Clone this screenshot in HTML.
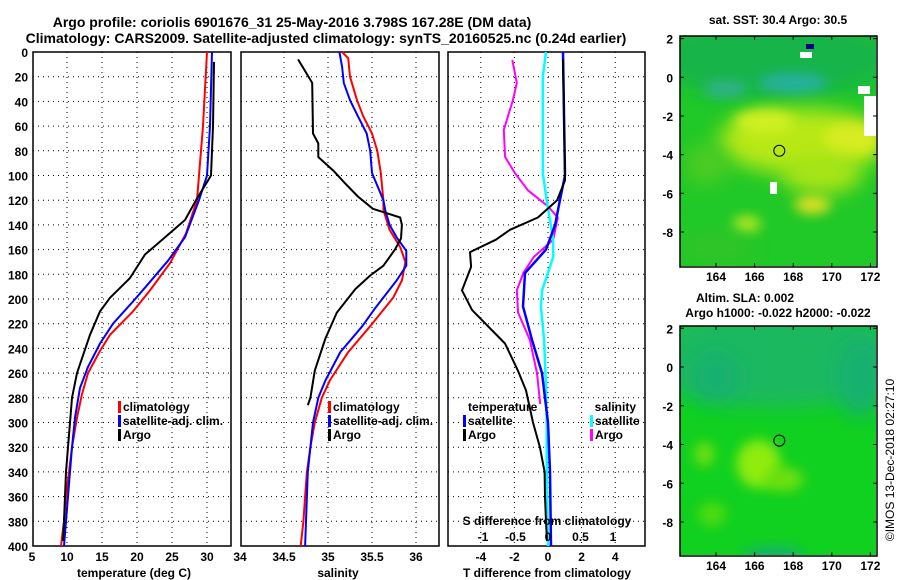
<!DOCTYPE html>
<html><head><meta charset="utf-8">
<style>
html,body{margin:0;padding:0;background:#fff;}
svg{display:block;font-family:"Liberation Sans",Arial,sans-serif;font-weight:bold;}
</style></head>
<body>
<svg id="fig" width="900" height="580" viewBox="0 0 900 580" xmlns="http://www.w3.org/2000/svg">
<defs>
<filter id="blur6" x="-50%" y="-50%" width="200%" height="200%"><feGaussianBlur stdDeviation="6"/></filter>
<filter id="blur10" x="-50%" y="-50%" width="200%" height="200%"><feGaussianBlur stdDeviation="10"/></filter>
<clipPath id="clipTop"><rect x="680" y="36" width="196" height="230"/></clipPath>
<clipPath id="clipBot"><rect x="680" y="326" width="196" height="229"/></clipPath>
</defs>
<text x="292" y="27" font-size="14" text-anchor="middle">Argo profile: coriolis 6901676_31 25-May-2016 3.798S 167.28E (DM data)</text>
<text x="326" y="43" font-size="14" text-anchor="middle">Climatology: CARS2009. Satellite-adjusted climatology: synTS_20160525.nc (0.24d earlier)</text>
<g id="plots"></g>
<g id="maps"></g>
</svg>
<script>
// ---------- data ----------
const tempClimDepth=[0,60,100,120,147,171,193,210,229,242,260,277,296,320,340,360,380,400];
const tempClimVal=[30.0,29.43,28.86,28.57,27.0,24.71,21.86,19.43,16.14,14.71,13.0,12.14,11.43,10.71,10.29,9.86,9.57,9.14];
const tempSatDepth=[0,60,100,120,150,169,188,202,220,236,255,272,296,320,340,360,380,400];
const tempSatVal=[30.71,30.43,30.0,28.86,26.86,24.43,21.57,19.43,16.57,14.71,13.0,11.86,11.14,10.71,10.43,10.14,9.86,9.57];
const tempArgoDepth=[8,60,100,120,136,155,164,183,199,210,229,248,260,280,300,320,340,360,380,396];
const tempArgoVal=[31.0,30.86,30.57,28.43,26.86,23.0,21.14,19.0,16.14,14.71,13.29,12.14,11.43,10.71,10.43,10.14,9.86,9.71,9.57,9.43];

const salClimDepth=[0,5,20,39,52,66,80,98,120,128,144,158,170,185,199,222,243,266,280,300,320,340,360,380,400];
const salClimVal=[35.16,35.23,35.25,35.33,35.40,35.50,35.56,35.60,35.63,35.63,35.70,35.82,35.88,35.84,35.74,35.48,35.23,35.02,34.93,34.85,34.80,34.76,34.74,34.72,34.69];
const salSatDepth=[0,12,25,39,52,66,80,98,120,128,140,150,161,173,185,208,222,243,266,280,300,320,340,360,380,400];
const salSatVal=[35.13,35.16,35.18,35.25,35.34,35.44,35.48,35.50,35.63,35.65,35.70,35.78,35.89,35.89,35.78,35.53,35.39,35.14,34.97,34.89,34.83,34.80,34.77,34.76,34.75,34.74];
const salArgoDepth=[6,25,66,74,85,96,106,117,127,134,140,151,160,173,181,192,211,232,258,280,286];
const salArgoVal=[34.66,34.82,34.83,34.89,34.89,35.06,35.19,35.34,35.51,35.82,35.84,35.83,35.76,35.63,35.48,35.31,35.10,34.97,34.85,34.80,34.77];

const tdiffSatDepth=[0,100,120,140,160,179,206,233,260,280,300,340,400];
const tdiffSatVal=[0.89,1.01,0.71,0.42,-0.12,-1.37,-1.49,-0.95,-0.36,-0.18,0,0.12,0.18];
const tdiffArgoDepth=[6,100,104,120,134,144,152,162,174,193,209,236,258,274,300,320,340,360,380,396];
const tdiffArgoVal=[0.89,1.01,1.01,0.54,-0.60,-2.26,-3.10,-4.64,-4.58,-5.12,-4.52,-2.56,-1.79,-1.31,-0.89,-0.48,-0.2,-0.18,-0.12,-0.06];
const sdiffSatDepth=[0,20,98,120,152,166,193,206,233,271,300,340,400];
const sdiffSatVal=[-0.03,-0.08,-0.08,-0.02,0.08,0.08,-0.09,-0.11,-0.06,-0.03,-0.02,-0.02,0];
const sdiffArgoDepth=[6.5,25,39,63,85,98,112,125,134,152,166,179,193,211,233,260,285];
const sdiffArgoVal=[-0.55,-0.48,-0.54,-0.68,-0.66,-0.51,-0.31,0,0.15,0.08,-0.22,-0.38,-0.48,-0.46,-0.28,-0.17,-0.12];

const depthTicks=[0,20,40,60,80,100,120,140,160,180,200,220,240,260,280,300,320,340,360,380,400];
const tempTicks=[5,10,15,20,25,30];
const salTicks=[34,34.5,35,35.5,36];
const tdiffTicks=[-4,-2,0,2,4];
const sdiffTicks=[-1,-0.5,0,0.5,1];
const lonTicks=[164,166,168,170,172];
const latTicks=[2,0,-2,-4,-6,-8];

// ---------- helpers ----------
const NS='http://www.w3.org/2000/svg';
const plots=document.getElementById('plots');
const maps=document.getElementById('maps');
function mk(tag,attrs,parent){const e=document.createElementNS(NS,tag);for(const k in attrs)e.setAttribute(k,attrs[k]);(parent||plots).appendChild(e);return e;}
const Y0=52,Y1=546;
const yD=d=>Y0+(d/400)*(Y1-Y0);
function linScale(d0,d1,r0,r1){return v=>r0+(v-d0)/(d1-d0)*(r1-r0);}
const xT=linScale(5,30,32,207);
const xS=linScale(34,36,240,416);
const xTd=linScale(0,4,548,615.2);
const xSd=linScale(0,1,548,613);
const panels=[{x0:33,x1:231},{x0:241,x1:439},{x0:448,x1:645}];

function drawFrame(p,idx,vticks,sx){
  vticks.forEach(v=>{const x=sx(v);if(x>p.x0+2&&x<p.x1-2){
    const l=mk('line',{x1:x,x2:x,y1:Y0,y2:Y1,stroke:'#000','stroke-width':1,'stroke-dasharray':'1,4'});
    
    
  }});
  depthTicks.forEach(d=>{const y=yD(d);if(d>0&&d<400){
    const l=mk('line',{x1:p.x0,x2:p.x1,y1:y,y2:y,stroke:'#000','stroke-width':1,'stroke-dasharray':'1,4'});
    
    
  }});
  const r=mk('rect',{x:p.x0,y:Y0,width:p.x1-p.x0,height:Y1-Y0,fill:'none',stroke:'#000','stroke-width':1.5});
  
  
}
function drawLine(depths,vals,sx,color,name,w){
  const pts=depths.map((d,i)=>sx(vals[i]).toFixed(1)+','+yD(d).toFixed(1)).join(' ');
  const l=mk('polyline',{points:pts,fill:'none',stroke:color,'stroke-width':w||2,'stroke-linejoin':'round'});
  
  
}
function txt(x,y,s,size,anchor,name,color){
  const t=mk('text',{x:x,y:y,'font-size':size,'text-anchor':anchor||'middle',fill:color||'#000'});
  t.textContent=s;
  
  
  return t;
}
function legendEntry(x,y,color,label,name){
  const b=mk('rect',{x:x,y:y-10,width:3,height:12,fill:color});
  
  
  txt(x+5,y,label,12,'start',name);
}

// ---------- panel 1: temperature ----------
drawFrame(panels[0],0,tempTicks,xT);
drawLine(tempClimDepth,tempClimVal,xT,'#ff0000','temperature-climatology-line');
drawLine(tempSatDepth,tempSatVal,xT,'#0000ff','temperature-satellite-line');
drawLine(tempArgoDepth,tempArgoVal,xT,'#000000','temperature-argo-line');
depthTicks.forEach(d=>txt(28,yD(d)+5,String(d),12,'end','depth-tick-label'));
tempTicks.forEach(v=>txt(xT(v),561,String(v),12,'middle','temperature-tick-label'));
txt(134,577,'temperature (deg C)',12,'middle','temperature-axis-title');
legendEntry(118,411,'#ff0000','climatology','legend-climatology');
legendEntry(118,425,'#0000ff','satellite-adj. clim.','legend-satellite-adj');
legendEntry(118,439,'#000000','Argo','legend-argo');

// ---------- panel 2: salinity ----------
drawFrame(panels[1],1,salTicks,xS);
drawLine(salClimDepth,salClimVal,xS,'#ff0000','salinity-climatology-line');
drawLine(salSatDepth,salSatVal,xS,'#0000ff','salinity-satellite-line');
drawLine(salArgoDepth,salArgoVal,xS,'#000000','salinity-argo-line');
salTicks.forEach(v=>txt(xS(v),561,String(v),12,'middle','salinity-tick-label'));
txt(338,577,'salinity',12,'middle','salinity-axis-title');
legendEntry(328,411,'#ff0000','climatology','legend-climatology-2');
legendEntry(328,425,'#0000ff','satellite-adj. clim.','legend-satellite-adj-2');
legendEntry(328,439,'#000000','Argo','legend-argo-2');

// ---------- panel 3: differences ----------
drawFrame(panels[2],2,tdiffTicks,xTd);
drawLine(sdiffArgoDepth,sdiffArgoVal,xSd,'#ff00ff','salinity-diff-argo-line');
drawLine(sdiffSatDepth,sdiffSatVal,xSd,'#00ffff','salinity-diff-satellite-line',2.5);
drawLine(tdiffSatDepth,tdiffSatVal,xTd,'#0000ff','temperature-diff-satellite-line',2.5);
drawLine(tdiffArgoDepth,tdiffArgoVal,xTd,'#000000','temperature-diff-argo-line');
tdiffTicks.forEach(v=>txt(xTd(v),561,String(v),12,'middle','tdiff-tick-label'));
sdiffTicks.forEach(v=>txt(xSd(v),541,String(v),12,'middle','sdiff-tick-label'));
txt(547,525,'S difference from climatology',12,'middle','sdiff-axis-title');
txt(547,577,'T difference from climatology',12,'middle','tdiff-axis-title');
txt(468,411,'temperature',12,'start','legend-temperature-heading');
txt(636,411,'salinity',12,'end','legend-salinity-heading');
legendEntry(463,425,'#0000ff','satellite','legend-temp-satellite');
legendEntry(463,439,'#000000','Argo','legend-temp-argo');
legendEntry(590,425,'#00ffff','satellite','legend-sal-satellite');
legendEntry(590,439,'#ff00ff','Argo','legend-sal-argo');

// ---------- maps ----------
const xLon=linScale(164,172,716,870.4);
const yTop=linScale(0,-8,77.3,232);
const yBot=linScale(0,-8,367,522);
const argoLon=167.28, argoLat=-3.798;
function mapFrame(y0,y1,ySc,name){
  const r=mk('rect',{x:680,y:y0,width:197,height:y1-y0,fill:'none',stroke:'#000','stroke-width':1.5},maps);
  
  
  lonTicks.forEach(v=>{const x=xLon(v);
    mk('line',{x1:x,x2:x,y1:y0,y2:y0+4,stroke:'#000'},maps);
    mk('line',{x1:x,x2:x,y1:y1,y2:y1-4,stroke:'#000'},maps);
    const t=mk('text',{x:x,y:y1+14,'font-size':12,'text-anchor':'middle'},maps);t.textContent=String(v);
    
    
  });
  latTicks.forEach(v=>{const y=ySc(v);
    mk('line',{x1:680,x2:684,y1:y,y2:y,stroke:'#000'},maps);
    mk('line',{x1:877,x2:873,y1:y,y2:y,stroke:'#000'},maps);
    const t=mk('text',{x:673,y:y+5,'font-size':12,'text-anchor':'end'},maps);t.textContent=String(v);
    
    
  });
  const c=mk('circle',{cx:xLon(argoLon),cy:ySc(argoLat),r:5.5,fill:'none',stroke:'#000','stroke-width':1},maps);
  
  
}
function blob(g,lon,lat,rx,ry,color,ySc,filt){
  mk('ellipse',{cx:xLon(lon),cy:ySc(lat),rx:rx,ry:ry,fill:color,filter:'url(#'+filt+')'},g);
}
// top SST map
const gT=mk('g',{'clip-path':'url(#clipTop)'},maps);


mk('rect',{x:680,y:36,width:197,height:231,fill:'#20c828'},gT);
blob(gT,167,1,120,40,'#18b448',yTop,'blur10');
blob(gT,168,-0.3,35,10,'#28b0a0',yTop,'blur6');
blob(gT,164.5,-0.6,22,8,'#30b090',yTop,'blur6');
blob(gT,168.5,-3.3,85,33,'#b8e818',yTop,'blur10');
blob(gT,171,-3.2,28,16,'#d8ec20',yTop,'blur6');
blob(gT,166.5,-2.3,30,12,'#d0f020',yTop,'blur6');
blob(gT,169.5,-5,40,20,'#a8e418',yTop,'blur10');
blob(gT,169,-6.6,18,9,'#e0e020',yTop,'blur6');
blob(gT,165.6,-7.6,14,8,'#c0ea20',yTop,'blur6');
blob(gT,163.5,-4.5,22,20,'#50cc20',yTop,'blur10');
blob(gT,164,-8.8,40,14,'#30c428',yTop,'blur10');
mk('rect',{x:864,y:96,width:13,height:40,fill:'#fff'},gT);
mk('rect',{x:858,y:86,width:12,height:8,fill:'#fff'},gT);
mk('rect',{x:800,y:52,width:12,height:6,fill:'#fff'},gT);
mk('rect',{x:770,y:182,width:7,height:12,fill:'#fff'},gT);
mk('rect',{x:806,y:44,width:8,height:5,fill:'#000080'},gT);
mapFrame(36,267,yTop,'sst-map');
// bottom SLA map
const gB=mk('g',{'clip-path':'url(#clipBot)'},maps);


mk('rect',{x:680,y:326,width:197,height:230,fill:'#10d020'},gB);
blob(gB,167,0.5,130,50,'#1cb860',yBot,'blur10');
blob(gB,164,-0.5,25,25,'#18b070',yBot,'blur10');
blob(gB,171.5,-0.5,25,40,'#18b070',yBot,'blur10');
blob(gB,166.2,-5,22,24,'#90ec10',yBot,'blur6');
blob(gB,167.5,-5.8,20,12,'#70e010',yBot,'blur6');
blob(gB,163.4,-4.5,10,12,'#70e010',yBot,'blur6');
blob(gB,163.8,-7.6,14,12,'#50dc10',yBot,'blur6');
blob(gB,167,-9.7,30,8,'#18b070',yBot,'blur6');
mapFrame(326,556,yBot,'sla-map');

// map titles
[['sat. SST: 30.4 Argo: 30.5',778,24,'sst-map-title'],['Altim. SLA: 0.002',745,302,'sla-map-title'],['Argo h1000: -0.022 h2000: -0.022',778,317,'argo-height-label']].forEach(a=>{
  const t=mk('text',{x:a[1],y:a[2],'font-size':12,'text-anchor':'middle'},maps);t.textContent=a[0];
  
  
});
const cr=mk('text',{x:0,y:0,'font-size':12,'font-weight':'normal','text-anchor':'middle',transform:'translate(894,460) rotate(-90)'},maps);
cr.textContent='©IMOS 13-Dec-2018 02:27:10';


</script>
</body></html>
